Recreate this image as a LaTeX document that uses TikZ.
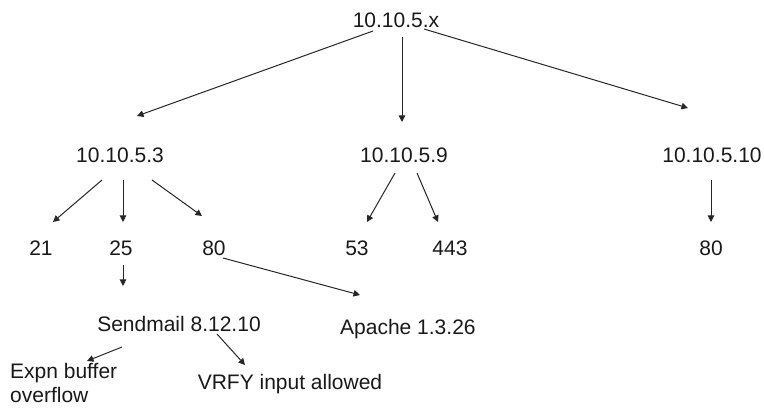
\documentclass[tikz,border=0pt]{standalone}
\usepackage{fontspec}
\setmainfont{Liberation Sans}
\usetikzlibrary{arrows.meta}
\begin{document}
\begin{tikzpicture}[x=1pt,y=-1pt,
  lbl/.style={anchor=base,inner sep=0pt,font=\fontsize{21}{25}\selectfont,text=black!90},
  con/.style={draw=black!85,line width=1pt,-{Triangle[width=6.5pt,length=6.5pt]}}]
\useasboundingbox (0,0) rectangle (764,411);
% text nodes
\node[lbl] (root) at (396,28) {10.10.5.x};
\node[lbl] (h3) at (120,163) {10.10.5.3};
\node[lbl] (h9) at (404,163) {10.10.5.9};
\node[lbl] (h10) at (712,163) {10.10.5.10};
\node[lbl] (p21) at (41,256) {21};
\node[lbl] (p25) at (121,256) {25};
\node[lbl] (p80a) at (214,256) {80};
\node[lbl] (p53) at (357,256) {53};
\node[lbl] (p443) at (450,256) {443};
\node[lbl] (p80b) at (711,256) {80};
\node[lbl] (send) at (179,332) {Sendmail 8.12.10};
\node[lbl,anchor=base west] (apache) at (340,335) {Apache 1.3.26};
\node[lbl,anchor=base west,align=left] (expn) at (10,403) {Expn buffer\\[-1pt]overflow};
\node[lbl] (vrfy) at (290,390) {VRFY input allowed};
% connector end points
\coordinate (a1s) at (373,31);  \coordinate (a1e) at (137,116);
\coordinate (a2s) at (402,37);  \coordinate (a2e) at (402,122);
\coordinate (a3s) at (424,29);  \coordinate (a3e) at (688,108);
\coordinate (b1s) at (102,180); \coordinate (b1e) at (53,222);
\coordinate (b2s) at (123,180); \coordinate (b2e) at (123,222);
\coordinate (b3s) at (152,180); \coordinate (b3e) at (202,216);
\coordinate (c1s) at (395,173); \coordinate (c1e) at (367,222);
\coordinate (c2s) at (417,173); \coordinate (c2e) at (438,222);
\coordinate (d1s) at (711,180); \coordinate (d1e) at (711,222);
\coordinate (e1s) at (123,265); \coordinate (e1e) at (123,286);
\coordinate (f1s) at (223,258); \coordinate (f1e) at (360,295);
\coordinate (g1s) at (122,347); \coordinate (g1e) at (87,361);
\coordinate (g2s) at (217,334); \coordinate (g2e) at (245,365);
% connectors
\draw[con] (a1s) -- (a1e);
\draw[con] (a2s) -- (a2e);
\draw[con] (a3s) -- (a3e);
\draw[con] (b1s) -- (b1e);
\draw[con] (b2s) -- (b2e);
\draw[con] (b3s) -- (b3e);
\draw[con] (c1s) -- (c1e);
\draw[con] (c2s) -- (c2e);
\draw[con] (d1s) -- (d1e);
\draw[con] (e1s) -- (e1e);
\draw[con] (f1s) -- (f1e);
\draw[con] (g1s) -- (g1e);
\draw[con] (g2s) -- (g2e);
\end{tikzpicture}
\end{document}
